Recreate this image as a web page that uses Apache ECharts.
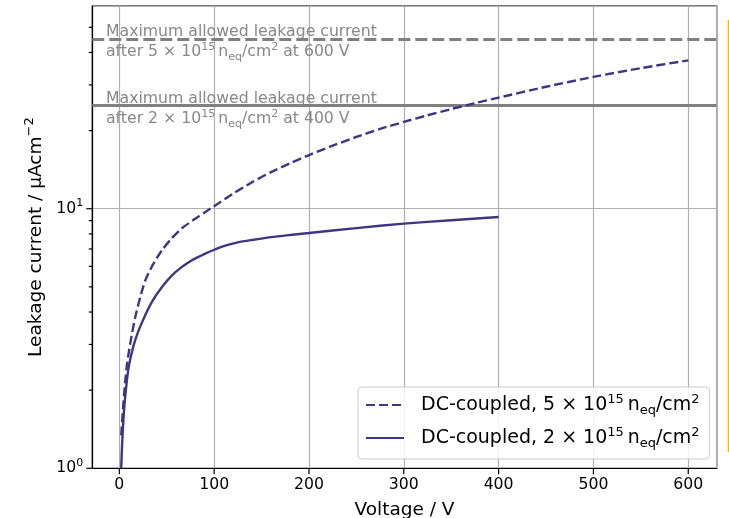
<!DOCTYPE html>
<html><head><meta charset="utf-8">
<script src="https://cdn.jsdelivr.net/npm/echarts@6/dist/echarts.min.js"></script>
<style>html,body{margin:0;padding:0;background:#fff}#c{width:729px;height:518px}</style>
</head><body><div id="c"></div>
<script>
// ---- data ----
const voltage5 = [2, 4, 6, 8, 10, 13, 17, 22, 27, 35, 45, 55, 66, 78, 90, 100, 120, 140, 160, 180, 200, 225, 250, 275, 300, 325, 350, 375, 400, 450, 500, 550, 600];
const current5 = [1.34, 1.72, 2.12, 2.5, 2.8, 3.25, 3.85, 4.55, 5.25, 6.05, 6.92, 7.67, 8.41, 9.04, 9.68, 10.23, 11.43, 12.65, 13.84, 14.96, 16.1, 17.5, 18.9, 20.3, 21.6, 22.9, 24.2, 25.5, 26.8, 29.5, 32.2, 34.8, 37.3];
const voltage2 = [2, 3, 5, 7, 10, 15, 20, 28, 35, 45, 55, 65, 77, 90, 100, 110, 125, 140, 160, 180, 200, 250, 300, 350, 400];
const current2 = [1.0, 1.25, 1.68, 2.02, 2.47, 2.97, 3.37, 3.94, 4.42, 4.99, 5.51, 5.93, 6.35, 6.7, 6.95, 7.18, 7.42, 7.58, 7.77, 7.92, 8.06, 8.42, 8.76, 9.03, 9.29];
const limit5 = 45;   // max allowed after 5e15 at 600 V
const limit2 = 25;   // max allowed after 2e15 at 400 V
const xTicks = [0, 100, 200, 300, 400, 500, 600];
const yMajorTicks = [1, 10];
const yMinorTicks = [2, 3, 4, 5, 6, 7, 8, 9, 20, 30, 40, 50];
const xRange = [-28.5, 630];
const yRange = [1, 60.4];
const seriesNames = ['dc5', 'dc2'];
const legendLabels = {
  dc5: 'DC-coupled, 5 × 10{sup|15}\u2009n{sub|eq}/cm{sup|2}',
  dc2: 'DC-coupled, 2 × 10{sup|15}\u2009n{sub|eq}/cm{sup|2}'
};
const annot5 = 'Maximum allowed leakage current\nafter 5 × 10{sup|15}\u2009n{sub|eq}/cm{sup|2} at 600 V';
const annot2 = 'Maximum allowed leakage current\nafter 2 × 10{sup|15}\u2009n{sub|eq}/cm{sup|2} at 400 V';

const FONT = 'DejaVu Sans';
const PURPLE = '#3f3683';
const GREY = '#808080';

const tickData = []
  .concat(yMajorTicks.map(v => [xRange[0], v, 6, 0]))
  .concat(yMinorTicks.map(v => [xRange[0], v, 3.5, 0]))
  .concat(xTicks.map(v => [v, yRange[0], 6, 1]));

const chart = echarts.init(document.getElementById('c'), null, {renderer: 'canvas'});

chart.setOption({
  animation: false,
  backgroundColor: '#fff',
  grid: {left: 92.3, top: 6, width: 624.4, height: 462.3, show: true, borderColor: '#000', borderWidth: 1.2,
    backgroundColor: 'transparent', containLabel: false, outerBoundsMode: 'none'},
  xAxis: {
    type: 'value', min: xRange[0], max: xRange[1],
    name: 'Voltage / V', nameLocation: 'middle', nameGap: 32,
    nameTextStyle: {fontSize: 18.5, fontFamily: FONT, color: '#000'},
    axisLine: {show: true, onZero: false, lineStyle: {color: '#000', width: 1.2}},
    axisTick: {show: false},
    axisLabel: {fontSize: 15.7, fontFamily: FONT, color: '#000', margin: 9, showMinLabel: false, showMaxLabel: false},
    splitLine: {show: true, lineStyle: {color: '#b0b0b0', width: 1.2}}
  },
  yAxis: {
    type: 'log', logBase: 10, min: yRange[0], max: yRange[1],
    name: 'Leakage current / µAcm{sup|−2}', nameLocation: 'middle', nameGap: 43, nameMoveOverlap: false,
    nameTextStyle: {fontSize: 18.5, fontFamily: FONT, color: '#000', lineHeight: 26,
      rich: {sup: {fontSize: 13, lineHeight: 13, verticalAlign: 'top', fontFamily: FONT, color: '#000'}}},
    axisLine: {show: true, onZero: false, lineStyle: {color: '#000', width: 1.2}},
    axisTick: {show: false},
    axisLabel: {
      fontSize: 15.7, fontFamily: FONT, color: '#000', margin: 9, lineHeight: 22, showMaxLabel: false,
      formatter: v => '10{sup|' + Math.round(Math.log10(v)) + '}',
      rich: {sup: {fontSize: 11, lineHeight: 11, verticalAlign: 'top', fontFamily: FONT, color: '#000'}}
    },
    splitLine: {show: true, lineStyle: {color: '#b0b0b0', width: 1.2}},
    minorSplitLine: {show: false}
  },
  legend: {
    data: seriesNames,
    orient: 'vertical', left: 358, top: 387,
    itemWidth: 38, itemHeight: 14, itemGap: 9,
    padding: [6, 10, 9, 7],
    backgroundColor: 'rgba(255,255,255,0.85)',
    borderColor: '#cccccc', borderWidth: 1, borderRadius: 4,
    itemStyle: {color: 'transparent', borderWidth: 0, opacity: 0},
    formatter: n => legendLabels[n],
    textStyle: {fontSize: 19, fontFamily: FONT, color: '#000', lineHeight: 24, padding: [0, 0, 0, 12],
      rich: {
        sup: {fontSize: 13, lineHeight: 13, verticalAlign: 'top', fontFamily: FONT, color: '#000'},
        sub: {fontSize: 13, lineHeight: 13, verticalAlign: 'bottom', fontFamily: FONT, color: '#000'}
      }}
  },
  series: [
    {
      name: 'dc5', type: 'line', symbol: 'none', smooth: 0.25,
      data: voltage5.map((v, i) => [v, current5[i]]),
      lineStyle: {color: PURPLE, width: 2.4, type: [9, 4]},
      itemStyle: {color: PURPLE}, z: 5
    },
    {
      name: 'dc2', type: 'line', symbol: 'none', smooth: 0.25,
      data: voltage2.map((v, i) => [v, current2[i]]),
      lineStyle: {color: PURPLE, width: 2.4},
      itemStyle: {color: PURPLE}, z: 5
    },
    {
      name: 'limits', type: 'line', data: [], silent: true,
      markLine: {
        symbol: 'none', silent: true, label: {show: false}, animation: false,
        data: [
          {yAxis: limit5, lineStyle: {color: GREY, width: 3, type: [12, 5]}},
          {yAxis: limit2, lineStyle: {color: GREY, width: 3, type: 'solid'}}
        ]
      }, z: 4
    },
    {
      name: 'ticks', type: 'custom', silent: true, clip: false, z: 10,
      data: tickData,
      renderItem: (params, api) => {
        const p = api.coord([api.value(0), api.value(1)]);
        const len = api.value(2), dir = api.value(3);
        const shape = dir === 0
          ? {x1: p[0] - len, y1: p[1], x2: p[0], y2: p[1]}
          : {x1: p[0], y1: p[1], x2: p[0], y2: p[1] + len};
        return {type: 'line', shape: shape, style: {stroke: '#000', lineWidth: 1.2}};
      }
    }
  ],
  graphic: [
    {type: 'text', left: 106, top: 21.5, z: 20, silent: true,
      style: {text: annot5, fontSize: 15.7, fontFamily: FONT, fill: '#888888', lineHeight: 20.5,
        rich: {sup: {fontSize: 11, lineHeight: 11, verticalAlign: 'top', fontFamily: FONT, fill: '#888888'},
               sub: {fontSize: 11, lineHeight: 11, verticalAlign: 'bottom', fontFamily: FONT, fill: '#888888'}}}},
    {type: 'text', left: 106, top: 88.5, z: 20, silent: true,
      style: {text: annot2, fontSize: 15.7, fontFamily: FONT, fill: '#888888', lineHeight: 20.5,
        rich: {sup: {fontSize: 11, lineHeight: 11, verticalAlign: 'top', fontFamily: FONT, fill: '#888888'},
               sub: {fontSize: 11, lineHeight: 11, verticalAlign: 'bottom', fontFamily: FONT, fill: '#888888'}}}},
    {type: 'line', z: 20, silent: true, shape: {x1: 728.5, y1: 20, x2: 728.5, y2: 452}, style: {stroke: '#f2b900', lineWidth: 1.5}}
  ]
});
</script></body></html>
